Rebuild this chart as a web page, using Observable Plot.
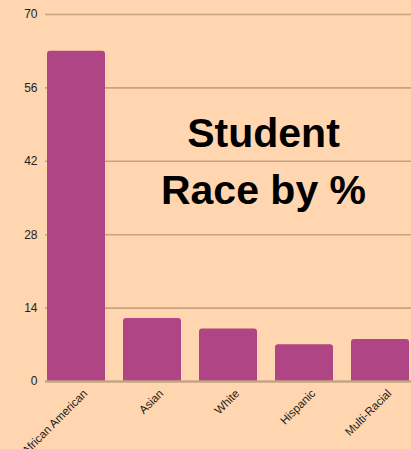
<!DOCTYPE html>
<html>
<head>
<meta charset="utf-8">
<script src="https://cdn.jsdelivr.net/npm/d3@7"></script>
<script src="https://cdn.jsdelivr.net/npm/@observablehq/plot@0.6"></script>
<style>
  html, body { margin: 0; padding: 0; background: #FFD6AF; }
  #chart svg { display: block; background: #FFD6AF; }
</style>
</head>
<body>
<div id="chart"></div>
<script>
const categories = ["African American", "Asian", "White", "Hispanic", "Multi-Racial"];
const values = [63, 12, 10, 7, 8];
const yTicks = [0, 14, 28, 42, 56, 70];
const titleText = "Student\nRace by %";

const data = categories.map((c, i) => ({category: c, value: values[i]}));

const barColor = "#B04585";
const gridColor = "#C4A483";

const chart = Plot.plot({
  width: 411,
  height: 449,
  marginTop: 14,
  marginBottom: 68,
  marginLeft: 45,
  marginRight: 0,
  style: {background: "#FFD6AF", fontFamily: "'Liberation Sans', Arial, sans-serif", fontSize: "11px", color: "#222"},
  x: {domain: categories, padding: 0.235, paddingOuter: 0, label: null},
  y: {domain: [0, 70], ticks: yTicks, label: null},
  marks: [
    Plot.ruleY(yTicks.filter(t => t > 0), {stroke: gridColor, strokeWidth: 1.6}),
    Plot.barY(data, {x: "category", y: "value", fill: barColor, rx: 3}),
    Plot.barY(data, {x: "category", y1: 0, y2: d => d.value / 2, fill: barColor}),
    Plot.ruleY([0], {stroke: gridColor, strokeWidth: 2.5}),
    Plot.axisY({ticks: yTicks, tickSize: 0, tickPadding: 8, fontSize: 12, fill: "#222", label: null}),
    Plot.axisX({tickSize: 0, tickRotate: -45, tickPadding: 6, dx: 9, dy: 4, fontSize: 11.5, fill: "#222", label: null}),
    Plot.text([titleText], {
      frameAnchor: "top",
      textAnchor: "middle",
      lineAnchor: "top",
      dx: 35,
      dy: 92,
      fontSize: 41,
      fontWeight: "bold",
      lineHeight: 1.39,
      fill: "#000"
    })
  ]
});
document.getElementById("chart").appendChild(chart);
</script>
</body>
</html>
